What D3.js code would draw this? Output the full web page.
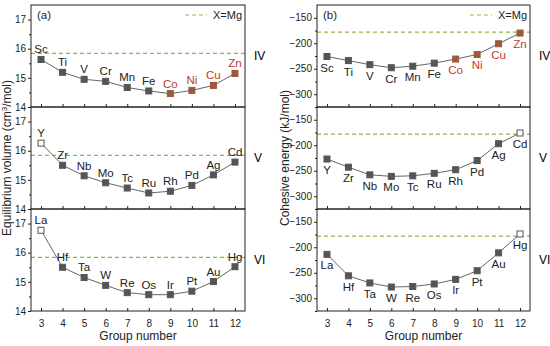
<!DOCTYPE html>
<meta charset="utf-8">
<style>
  body { margin: 0; background: #fff; }
  svg { font-family: "Liberation Sans", Arial, sans-serif; }
  .tick text { font-size: 10px; fill: #222; }
  .frame { fill: none; stroke: #222; stroke-width: 1; }
  .elem { font-size: 11.5px; text-anchor: middle; }
  .row { font-size: 12px; }
  .title { font-size: 12px; fill: #222; text-anchor: middle; }
</style>
<svg class="chart" width="550" height="346"></svg>
<script src="https://d3js.org/d3.v7.min.js"></script>
<script>

  var groups = [3, 4, 5, 6, 7, 8, 9, 10, 11, 12];
  var rowNames = ["IV", "V", "VI"];
  var elemIV = ["Sc", "Ti", "V", "Cr", "Mn", "Fe", "Co", "Ni", "Cu", "Zn"];
  var elemV = ["Y", "Zr", "Nb", "Mo", "Tc", "Ru", "Rh", "Pd", "Ag", "Cd"];
  var elemVI = ["La", "Hf", "Ta", "W", "Re", "Os", "Ir", "Pt", "Au", "Hg"];

  // equilibrium volume (cm3/mol)
  var volIV = [15.63, 15.19, 14.95, 14.88, 14.67, 14.55, 14.46, 14.57, 14.74, 15.15];
  var volV = [16.26, 15.50, 15.14, 14.90, 14.72, 14.55, 14.61, 14.81, 15.17, 15.61];
  var volVI = [16.77, 15.50, 15.15, 14.88, 14.63, 14.56, 14.56, 14.68, 15.01, 15.52];
  // cohesive energy (kJ/mol)
  var cohIV = [-226, -234, -242, -248, -245, -239, -231, -222, -201, -180];
  var cohV = [-227, -243, -258, -261, -260, -255, -248, -230, -197, -176];
  var cohVI = [-214, -256, -270, -278, -277, -272, -263, -246, -211, -174];

  var mgVol = 15.84, mgCoh = -178;
  var volTicks = [14, 15, 16, 17];
  var cohTicks = [-300, -250, -200, -150];

  var red = ["Co", "Ni", "Cu", "Zn"];
  var openVol = ["Y", "La"], openCoh = ["Cd", "Hg"];

  var svg = d3.select(".chart");
  var top0 = 5, ph = 102;
  var elems = [elemIV, elemV, elemVI];

  function drawSide(opt) {
    var x = d3.scaleLinear().domain([2.535, 12.465]).range([opt.x0, opt.x1]);
    opt.series.forEach(function (vals, r) {
      var y = d3.scaleLinear().domain(opt.domain).range([top0 + (r + 1) * ph, top0 + r * ph]);
      var g = svg.append("g");
      var pts = groups.map(function (gr, i) { return { g: gr, v: vals[i], e: elems[r][i] }; });

      // y axis
      g.append("g").attr("transform", "translate(" + opt.x0 + ",0)")
        .call(d3.axisLeft(y).tickValues(opt.ticks).tickSize(3).tickPadding(2).tickFormat(d3.format("d")))
        .call(function (a) { a.select(".domain").remove(); a.selectAll("line").attr("stroke", "#222"); });
      g.append("g").attr("transform", "translate(" + opt.x0 + ",0)")
        .call(d3.axisLeft(y).tickValues(opt.minor).tickSize(2).tickFormat(""))
        .call(function (a) { a.select(".domain").remove(); a.selectAll("line").attr("stroke", "#222"); });
      // x ticks inward
      g.append("g").attr("transform", "translate(0," + (top0 + (r + 1) * ph) + ")")
        .call(d3.axisTop(x).tickValues(groups).tickSize(3).tickFormat(r === 2 ? null : ""))
        .call(function (a) {
          a.select(".domain").remove();
          a.selectAll("line").attr("stroke", "#222");
          a.selectAll("text").attr("y", 9).attr("dy", "0.71em");
        });

      // Mg line
      g.append("line").attr("x1", opt.x0).attr("x2", opt.x1)
        .attr("y1", y(opt.mg)).attr("y2", y(opt.mg))
        .attr("stroke", "#8dbb3c").attr("stroke-width", 1.2).attr("stroke-dasharray", "4,3");

      // line
      g.append("path").datum(pts)
        .attr("fill", "none").attr("stroke", "#666").attr("stroke-width", 1)
        .attr("d", d3.line().x(function (d) { return x(d.g); }).y(function (d) { return y(d.v); }));

      // markers
      g.selectAll("rect.m").data(pts).enter().append("rect")
        .attr("x", function (d) { return x(d.g) - 3; })
        .attr("y", function (d) { return y(d.v) - 3; })
        .attr("width", 6).attr("height", 6)
        .attr("fill", function (d) {
          if (opt.open.indexOf(d.e) >= 0) return "#fff";
          return red.indexOf(d.e) >= 0 ? "#9a5a3c" : "#555";
        })
        .attr("stroke", function (d) { return red.indexOf(d.e) >= 0 ? "#9a5a3c" : "#555"; })
        .attr("stroke-width", 1);

      // element labels
      g.selectAll("text.elem").data(pts).enter().append("text")
        .attr("class", "elem")
        .attr("x", function (d) { return x(d.g); })
        .attr("y", function (d) { return y(d.v) + opt.labelDy; })
        .attr("fill", function (d) { return red.indexOf(d.e) >= 0 ? "#c0392b" : "#222"; })
        .text(function (d) { return d.e; });

      // frame
      g.append("rect").attr("class", "frame")
        .attr("x", opt.x0).attr("y", top0 + r * ph)
        .attr("width", opt.x1 - opt.x0).attr("height", ph);

      // row label
      g.append("text").attr("class", "row")
        .attr("x", opt.x1 + 9).attr("y", top0 + r * ph + 51 + 4)
        .text(rowNames[r]);
    });

    // panel tag and legend
    svg.append("text").attr("x", opt.x0 + 6).attr("y", 19).attr("font-size", 11.5).attr("fill", "#222").text(opt.tag);
    svg.append("line").attr("x1", opt.x1 - 60).attr("x2", opt.x1 - 38).attr("y1", 15).attr("y2", 15)
      .attr("stroke", "#8dbb3c").attr("stroke-width", 1.2).attr("stroke-dasharray", "4,3");
    svg.append("text").attr("x", opt.x1 - 32).attr("y", 19).attr("font-size", 11).attr("fill", "#222").text("X=Mg");

    svg.append("text").attr("class", "title")
      .attr("x", (opt.x0 + opt.x1) / 2).attr("y", 340).text("Group number");

    var yt = svg.append("text").attr("class", "title")
      .attr("transform", "translate(" + opt.titleX + "," + (top0 + 1.5 * ph) + ") rotate(-90)");
    opt.ytitle(yt);
  }

  drawSide({
    x0: 31, x1: 245, domain: [14, 17.5], ticks: volTicks, minor: [14.5, 15.5, 16.5],
    series: [volIV, volV, volVI], mg: mgVol, open: openVol, labelDy: -6, tag: "(a)", titleX: 11,
    ytitle: function (t) {
      t.append("tspan").text("Equilibrium volume (cm");
      t.append("tspan").attr("baseline-shift", "super").attr("font-size", 8).text("3");
      t.append("tspan").text("/mol)");
    }
  });

  drawSide({
    x0: 317, x1: 530, domain: [-325, -125], ticks: cohTicks, minor: [-325, -275, -225, -175],
    series: [cohIV, cohV, cohVI], mg: mgCoh, open: openCoh, labelDy: 15, tag: "(b)", titleX: 289,
    ytitle: function (t) { t.text("Cohesive energy (kJ/mol)"); }
  });

</script>
